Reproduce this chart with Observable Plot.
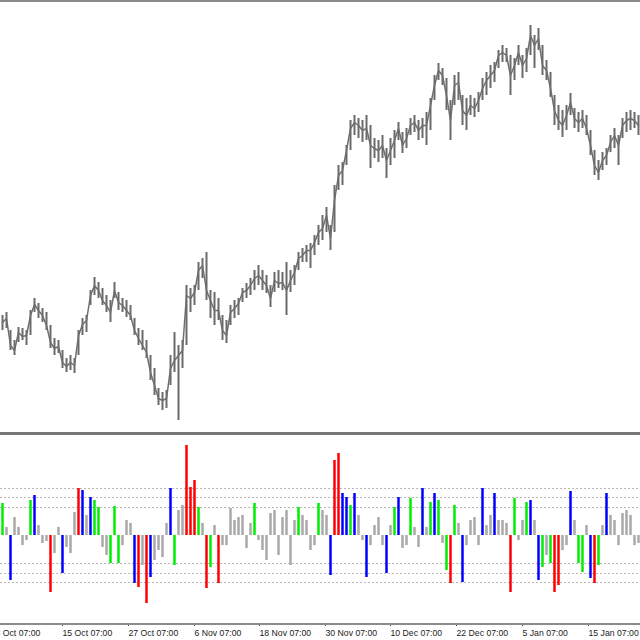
<!DOCTYPE html>
<html>
<head>
<meta charset="utf-8">
<script src="https://cdn.jsdelivr.net/npm/d3@7"></script>
<script src="https://cdn.jsdelivr.net/npm/@observablehq/plot@0.6"></script>
<style>
  html, body { margin: 0; padding: 0; background: #fff; overflow: hidden; }
  #chart { position: relative; width: 640px; height: 640px; background: #fff; overflow: hidden; }
  #topline { position: absolute; left: 0; top: 0; width: 640px; height: 2px; background: #8a8a8a; }
  #top { position: absolute; left: 0; top: 2px; width: 640px; height: 430px; }
  #sep { position: absolute; left: 0; top: 432px; width: 640px; height: 3px; background: #777; }
  #bot { position: absolute; left: 0; top: 435px; width: 640px; height: 205px; }
  #axisline { position: absolute; left: 0; top: 623px; width: 640px; height: 2px; background: #8c8c8c; }
  svg { overflow: visible; }
</style>
</head>
<body>
<div id="chart">
  <div id="topline"></div>
  <div id="top"></div>
  <div id="sep"></div>
  <div id="bot"></div>
  <div id="axisline"></div>
</div>
<script>
// Price bars (bar index = position)
const high = [1618,1621,1603,1593,1606,1605,1603,1623,1635,1630,1625,1621,1608,1595,1593,1583,1575,1578,1575,1603,
1615,1618,1643,1656,1651,1645,1638,1633,1651,1641,1635,1633,1628,1615,1605,1603,1593,1578,1565,1545,
1541,1543,1578,1601,1588,1593,1648,1645,1648,1671,1675,1681,1643,1641,1635,1618,1613,1628,1633,1635,
1645,1650,1655,1663,1668,1663,1658,1648,1661,1663,1661,1671,1663,1668,1681,1685,1688,1690,1698,1708,
1718,1726,1708,1748,1768,1771,1788,1813,1818,1815,1813,1818,1808,1795,1793,1798,1785,1795,1803,1811,
1801,1805,1815,1818,1813,1815,1821,1835,1858,1870,1865,1855,1833,1858,1861,1838,1835,1838,1835,1841,
1855,1861,1868,1871,1883,1888,1885,1878,1875,1888,1878,1885,1908,1898,1905,1888,1873,1861,1838,1828,
1823,1828,1840,1825,1821,1823,1818,1803,1783,1773,1781,1785,1798,1805,1798,1815,1821,1823,1821,1818];
const low = [1603,1605,1583,1578,1591,1593,1588,1598,1621,1615,1611,1603,1585,1578,1580,1565,1561,1563,1560,1578,
1598,1601,1628,1638,1635,1628,1621,1611,1635,1623,1621,1616,1613,1598,1588,1583,1575,1553,1538,1528,
1523,1525,1548,1561,1513,1565,1588,1621,1628,1643,1655,1633,1615,1608,1613,1593,1590,1608,1615,1618,
1631,1635,1638,1643,1648,1643,1640,1626,1641,1645,1643,1618,1641,1648,1663,1671,1671,1665,1678,1688,
1693,1701,1683,1701,1743,1748,1768,1783,1798,1795,1791,1793,1765,1775,1771,1775,1755,1768,1775,1793,
1780,1785,1798,1801,1793,1795,1788,1803,1833,1853,1848,1823,1793,1828,1833,1808,1803,1818,1816,1821,
1833,1838,1845,1851,1865,1871,1871,1838,1853,1868,1855,1861,1878,1865,1883,1858,1853,1836,1808,1803,
1796,1803,1818,1805,1801,1805,1798,1778,1758,1753,1763,1768,1781,1785,1768,1795,1801,1803,1805,1798];
const close = [1611,1615,1588,1583,1601,1597,1598,1618,1629,1623,1618,1608,1591,1585,1587,1571,1567,1571,1568,1598,
1609,1613,1638,1648,1643,1633,1628,1621,1643,1631,1628,1623,1618,1603,1595,1588,1581,1561,1548,1535,
1533,1535,1565,1573,1578,1583,1638,1635,1641,1663,1668,1643,1633,1623,1623,1603,1598,1621,1625,1630,
1641,1643,1648,1655,1658,1653,1648,1635,1653,1650,1651,1643,1653,1661,1675,1678,1683,1683,1691,1701,
1705,1718,1695,1733,1758,1763,1783,1805,1811,1808,1803,1805,1788,1785,1783,1788,1773,1783,1793,1805,
1788,1795,1808,1811,1803,1808,1808,1828,1848,1863,1858,1838,1813,1848,1851,1823,1818,1828,1825,1833,
1845,1853,1858,1863,1878,1881,1878,1858,1868,1881,1868,1875,1898,1888,1895,1868,1863,1845,1823,1813,
1808,1818,1831,1815,1811,1815,1805,1788,1768,1761,1773,1778,1791,1798,1788,1808,1813,1815,1813,1808];

// Oscillator histogram
const histValues = [32,8,-45,18,8,-10,-5,35,40,10,-8,-6,-57,-18,8,-38,-12,-18,23,47,
45,20,38,35,28,-12,-20,-28,29,-28,-10,15,12,-48,-52,-30,-68,-42,-25,-15,
-22,12,47,-30,25,30,90,48,55,28,12,-53,-32,10,-48,-10,-10,27,15,18,
20,-13,12,32,-5,-15,-25,22,25,-20,18,25,-30,15,28,20,15,-15,-10,32,
25,20,-40,75,82,42,38,30,42,20,-5,-42,-10,10,18,-10,-38,10,28,38,
-13,-10,37,8,-12,47,8,33,42,35,-8,-35,-48,30,12,-47,-10,15,18,-10,
47,10,20,42,15,15,12,-57,37,-5,15,33,35,15,-45,-32,-20,-28,-57,-50,
-15,-10,44,15,-28,-37,10,-43,-48,-30,10,42,20,15,-10,22,25,20,-10,-8];
const histColors = ["G","g","B","g","g","g","g","G","B","g","g","g","R","g","g","B","g","g","g","R",
"B","g","B","G","G","g","g","G","G","G","g","g","g","B","R","g","R","B","g","g",
"g","g","B","G","g","g","R","R","R","G","g","R","G","g","R","g","g","g","g","g",
"g","g","g","G","g","g","g","g","g","g","g","g","g","g","G","g","g","g","g","G",
"g","g","B","R","R","B","B","G","B","g","g","B","g","g","g","g","B","g","G","B",
"g","g","G","g","g","B","g","G","B","G","g","G","R","G","g","B","g","g","g","g",
"B","g","g","B","g","g","g","R","G","g","g","G","B","g","B","G","g","G","R","R",
"g","g","B","g","G","G","g","B","R","G","g","B","g","g","g","g","g","g","g","g"];
const colorCodes = {g: "#a9a9a9", G: "#00ee00", B: "#0000ff", R: "#ff0000"};

const levels = [47, 38, 28, -28, -38, -47];

// Time axis
const tickIndex = [-1.75, 15, 31.5, 48, 64.25, 80.75, 97, 113.5, 130, 146.5];
const tickLabels = ["3 Oct 07:00","15 Oct 07:00","27 Oct 07:00","6 Nov 07:00","18 Nov 07:00",
  "30 Nov 07:00","10 Dec 07:00","22 Dec 07:00","5 Jan 07:00","15 Jan 07:00"];

const bars = close.map((c, i) => ({i, high: high[i], low: low[i], close: c}));
const hist = histValues.map((v, i) => ({i, v, c: colorCodes[histColors[i]]}));
const labelMap = new Map(tickIndex.map((t, k) => [t, tickLabels[k]]));

const topPlot = Plot.plot({
  width: 640, height: 430,
  marginTop: 0, marginBottom: 0, marginLeft: 0, marginRight: 0,
  style: {background: "transparent"},
  x: {domain: [-0.5, 159.5], range: [0, 640], axis: null, label: null},
  y: {domain: [1501, 1931], range: [430, 0], axis: null, label: null},
  marks: [
    Plot.ruleX(bars, {x: "i", y1: "low", y2: "high", stroke: "#6a6a6a", strokeWidth: 2}),
    Plot.line(bars, {x: "i", y: "close", stroke: "#6e6e6e", strokeWidth: 1.5})
  ]
});
document.getElementById("top").appendChild(topPlot);

const botPlot = Plot.plot({
  width: 640, height: 205,
  marginTop: 0, marginBottom: 16, marginLeft: 0, marginRight: 0,
  style: {background: "transparent", fontFamily: "'Liberation Sans', Arial, sans-serif", fontSize: "8.7px", color: "#222"},
  x: {domain: [-0.5, 159.5], range: [0, 640], label: null},
  y: {domain: [-89, 100], axis: null, label: null},
  marks: [
    Plot.ruleY(levels, {stroke: "#b8b8b8", strokeWidth: 1, strokeDasharray: "2,2"}),
    Plot.ruleX(hist, {x: "i", y1: 0, y2: "v", stroke: "c", strokeWidth: 2.5}),
    Plot.axisX({ticks: tickIndex, tickFormat: d => labelMap.get(d), textAnchor: "start",
      tickSize: 2, tickPadding: 3, fontSize: 8.7, dx: 0, stroke: "#444", label: null})
  ]
});
document.getElementById("bot").appendChild(botPlot);
</script>
</body>
</html>
